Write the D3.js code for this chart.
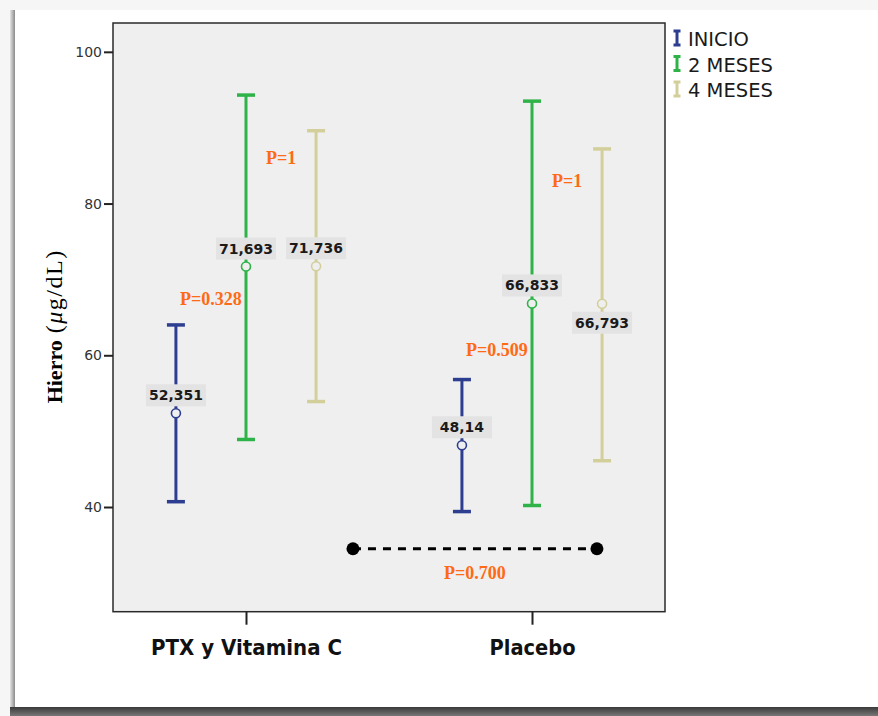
<!DOCTYPE html>
<html>
<head>
<meta charset="utf-8">
<script src="https://cdn.jsdelivr.net/npm/d3@7"></script>
<style>
  html, body { margin: 0; padding: 0; background: #f6f6f6; }
  svg { display: block; }
</style>
</head>
<body>
<div id="chart"></div>
<script>
'use strict';

const groups = ['PTX y Vitamina C', 'Placebo'];
const series = ['INICIO', '2 MESES', '4 MESES'];
const means = [[52.351, 71.693, 71.736], [48.14, 66.833, 66.793]];
const lower = [[40.7, 48.9, 53.9], [39.4, 40.2, 46.1]];
const upper = [[64.0, 94.3, 89.6], [56.8, 93.5, 87.2]];
const meanLabels = [['52,351', '71,693', '71,736'], ['48,14', '66,833', '66,793']];
const labelSide = [['above', 'above', 'above'], ['above', 'above', 'below']];
const yTicks = [40, 60, 80, 100];

// p-values: text, group, the two series compared, height in µg/dL
const pNotes = [
  { text: 'P=1', group: 0, between: [1, 2], value: 86.0 },
  { text: 'P=0.328', group: 0, between: [0, 1], value: 67.5 },
  { text: 'P=0.509', group: 1, between: [0, 1], value: 60.8 },
  { text: 'P=1', group: 1, between: [1, 2], value: 83.0 },
];
// comparison between groups (in category units on x)
const groupCompare = { text: 'P=0.700', from: 0.374, to: 1.227, value: 34.5, textValue: 31.4 };

const colors = ['#2d3e91', '#2fb349', '#d3cf9b'];

const width = 878;
const height = 716;
const plot = { left: 113, right: 665, top: 23, bottom: 611.7 };

const svg = d3.select('#chart')
  .append('svg')
  .attr('width', width)
  .attr('height', height);

// page / card frame
const defs = svg.append('defs');
const shade = defs.append('linearGradient').attr('id', 'shade').attr('x1', 0).attr('x2', 0).attr('y1', 0).attr('y2', 1);
shade.append('stop').attr('offset', '0%').attr('stop-color', '#3a3a3a');
shade.append('stop').attr('offset', '100%').attr('stop-color', '#777');
const sideShade = defs.append('linearGradient').attr('id', 'sideShade');
sideShade.append('stop').attr('offset', '0%').attr('stop-color', '#e4e4e4');
sideShade.append('stop').attr('offset', '100%').attr('stop-color', '#8a8a8a');

svg.append('rect').attr('width', width).attr('height', height).attr('fill', '#f6f6f6');
svg.append('rect').attr('x', 10).attr('y', 10).attr('width', 5).attr('height', 698).attr('fill', 'url(#sideShade)');
svg.append('rect').attr('x', 15).attr('y', 10).attr('width', width).attr('height', 697).attr('fill', '#fff');
svg.append('rect').attr('x', 10).attr('y', 707).attr('width', width).attr('height', 9).attr('fill', 'url(#shade)');

const x = d3.scaleLinear().domain([-0.465, 1.465]).range([plot.left, plot.right]);
const offset = d3.scalePoint().domain(series).range([-0.245, 0.245]);
const y = d3.scaleLinear().domain([26.2, 103.8]).range([plot.bottom, plot.top]);

svg.append('rect')
  .attr('x', plot.left)
  .attr('y', plot.top)
  .attr('width', plot.right - plot.left)
  .attr('height', plot.bottom - plot.top)
  .attr('fill', '#efefef')
  .attr('stroke', '#2a2a2a')
  .attr('stroke-width', 1.5);

// axes
const yAxis = d3.axisLeft(y).tickValues(yTicks).tickSize(9).tickPadding(2);
svg.append('g')
  .attr('transform', `translate(${plot.left},0)`)
  .call(yAxis)
  .call((g) => g.select('.domain').remove())
  .call((g) => g.selectAll('line').attr('stroke', '#222').attr('stroke-width', 2))
  .call((g) => g.selectAll('text')
    .attr('fill', '#333')
    .style('font-family', 'DejaVu Sans, sans-serif')
    .style('font-size', '14px'));

const xAxis = d3.axisBottom(x).tickValues([0, 1]).tickFormat((d) => groups[d]).tickSize(13).tickPadding(8);
svg.append('g')
  .attr('transform', `translate(0,${plot.bottom})`)
  .call(xAxis)
  .call((g) => g.select('.domain').remove())
  .call((g) => g.selectAll('line').attr('stroke', '#222').attr('stroke-width', 2))
  .call((g) => g.selectAll('text')
    .attr('fill', '#111')
    .attr('dy', '1.0em')
    .style('font-family', 'DejaVu Sans, sans-serif')
    .style('font-weight', 'bold')
    .style('font-size', '22px')
    .attr('textLength', (d) => (d === 0 ? 191 : 86))
    .attr('lengthAdjust', 'spacingAndGlyphs'));

// y label
const yLabel = svg.append('text')
  .attr('transform', `translate(62,${(plot.top + plot.bottom) / 2 + 9}) rotate(-90)`)
  .attr('text-anchor', 'middle')
  .attr('fill', '#000')
  .style('font-family', 'Liberation Serif, Times New Roman, serif')
  .style('font-size', '22px');
yLabel.append('tspan').style('font-weight', 'bold').text('Hierro');
const unit = yLabel.append('tspan').attr('dx', 7).style('font-size', '24px').style('letter-spacing', '1.5px');
unit.append('tspan').text('(');
unit.append('tspan').style('font-style', 'italic').text('μ');
unit.append('tspan').text('g/dL)');

// error bars
const bars = [];
groups.forEach((g, gi) => {
  series.forEach((s, si) => {
    bars.push({
      gi, si,
      cx: x(gi + offset(s)),
      mean: means[gi][si],
      lo: lower[gi][si],
      hi: upper[gi][si],
      label: meanLabels[gi][si],
      side: labelSide[gi][si],
      color: colors[si],
    });
  });
});

const barG = svg.append('g')
  .selectAll('g')
  .data(bars)
  .join('g');

barG.append('line')
  .attr('x1', (d) => d.cx).attr('x2', (d) => d.cx)
  .attr('y1', (d) => y(d.lo)).attr('y2', (d) => y(d.hi))
  .attr('stroke', (d) => d.color)
  .attr('stroke-width', 3);

barG.selectAll('line.cap')
  .data((d) => [[d, d.lo], [d, d.hi]])
  .join('line')
  .attr('class', 'cap')
  .attr('x1', ([d]) => d.cx - 9).attr('x2', ([d]) => d.cx + 9)
  .attr('y1', ([, v]) => y(v)).attr('y2', ([, v]) => y(v))
  .attr('stroke', ([d]) => d.color)
  .attr('stroke-width', 3.5);

barG.append('circle')
  .attr('cx', (d) => d.cx)
  .attr('cy', (d) => y(d.mean))
  .attr('r', 4.5)
  .attr('fill', '#efefef')
  .attr('stroke', (d) => d.color)
  .attr('stroke-width', 1.6);

const labelG = barG.append('g')
  .attr('transform', (d) => `translate(${d.cx},${y(d.mean) + (d.side === 'above' ? -18 : 19)})`);

labelG.append('rect')
  .attr('x', -30).attr('y', -11)
  .attr('width', 60).attr('height', 22)
  .attr('fill', '#e3e3e3');

labelG.append('text')
  .attr('text-anchor', 'middle')
  .attr('dy', '0.36em')
  .attr('fill', '#1a1a1a')
  .style('font-family', 'DejaVu Sans, sans-serif')
  .style('font-weight', 'bold')
  .style('font-size', '14px')
  .text((d) => d.label);

// p-value notes
const pFont = (sel) => sel
  .attr('text-anchor', 'middle')
  .attr('dy', '0.35em')
  .attr('fill', '#ff6a14')
  .style('font-family', 'Liberation Serif, Times New Roman, serif')
  .style('font-weight', 'bold')
  .style('font-size', '18px');

svg.append('g')
  .selectAll('text')
  .data(pNotes)
  .join('text')
  .attr('x', (d) => x(d.group + (offset(series[d.between[0]]) + offset(series[d.between[1]])) / 2))
  .attr('y', (d) => y(d.value))
  .call(pFont)
  .text((d) => d.text);

svg.append('line')
  .attr('x1', x(groupCompare.from)).attr('x2', x(groupCompare.to))
  .attr('y1', y(groupCompare.value)).attr('y2', y(groupCompare.value))
  .attr('stroke', '#000')
  .attr('stroke-width', 3)
  .attr('stroke-dasharray', '8,7');

svg.append('g')
  .selectAll('circle')
  .data([groupCompare.from, groupCompare.to])
  .join('circle')
  .attr('cx', (d) => x(d))
  .attr('cy', y(groupCompare.value))
  .attr('r', 6.5)
  .attr('fill', '#000');

svg.append('text')
  .attr('x', x((groupCompare.from + groupCompare.to) / 2))
  .attr('y', y(groupCompare.textValue))
  .call(pFont)
  .text(groupCompare.text);

// legend
const legend = svg.append('g')
  .selectAll('g')
  .data(series)
  .join('g')
  .attr('transform', (d, i) => `translate(677,${38 + i * 25.5})`);

legend.append('path')
  .attr('d', 'M-3.5,-7H3.5M0,-7V7M-3.5,7H3.5')
  .attr('stroke', (d, i) => colors[i])
  .attr('stroke-width', 3)
  .attr('fill', 'none');

legend.append('text')
  .attr('x', 11)
  .attr('y', 8)
  .attr('fill', '#1a1a1a')
  .style('font-family', 'DejaVu Sans, sans-serif')
  .style('font-size', '19.5px')
  .text((d) => d);
</script>
</body>
</html>
